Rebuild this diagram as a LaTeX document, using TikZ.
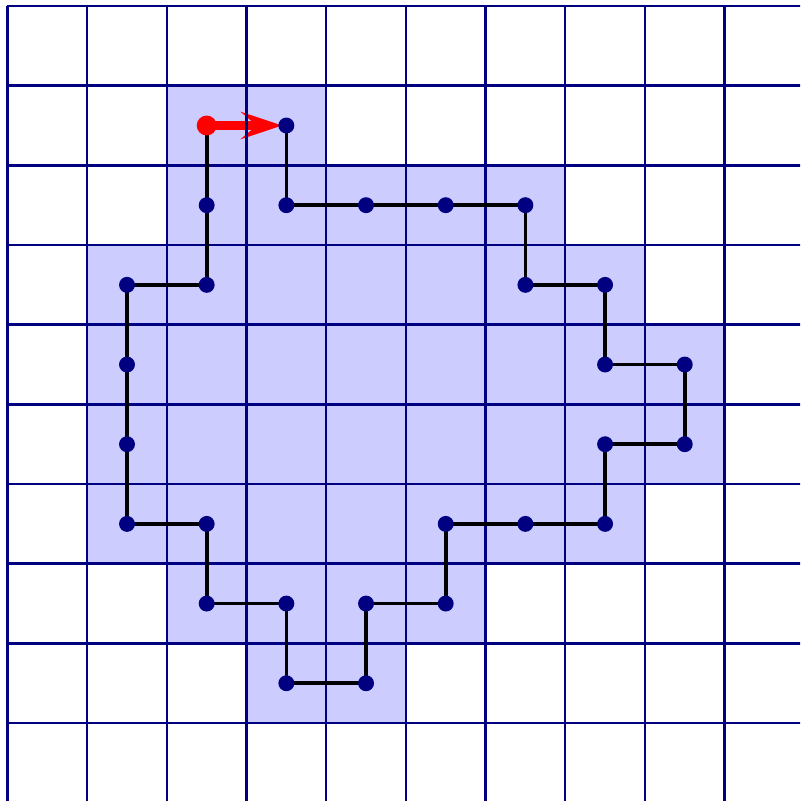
\documentclass[tikz,border=0pt]{standalone}
\usetikzlibrary{arrows.meta}
\definecolor{navy}{RGB}{0,0,128}
\definecolor{cellfill}{RGB}{204,204,255}
\begin{document}
\begin{tikzpicture}[x=1cm,y=-1cm,
  gridline/.style={draw=navy,line width=0.9pt},
  walk/.style={draw=black,line width=1.3pt},
  dot/.style={circle,fill=navy,inner sep=0pt,minimum size=0.2cm},
  startdot/.style={circle,fill=red,inner sep=0pt,minimum size=0.25cm},
  redarrow/.style={draw=red,line width=3.2pt,-{Stealth[length=0.52cm,width=0.34cm,inset=0.2cm]},shorten >=0.05cm}]
\useasboundingbox (-0.094,-0.075) rectangle (9.947,9.978);
% shaded region
\fill[cellfill] (2,1) rectangle (4,2);
\fill[cellfill] (2,2) rectangle (7,3);
\fill[cellfill] (1,3) rectangle (8,4);
\fill[cellfill] (1,4) rectangle (9,6);
\fill[cellfill] (1,6) rectangle (8,7);
\fill[cellfill] (2,7) rectangle (6,8);
\fill[cellfill] (3,8) rectangle (5,9);
% vertices
\foreach \n/\c/\r in {0/2/1,1/3/1,2/3/2,3/4/2,4/5/2,5/6/2,6/6/3,7/7/3,8/7/4,9/8/4,10/8/5,11/7/5,12/7/6,13/6/6,14/5/6,15/5/7,16/4/7,17/4/8,18/3/8,19/3/7,20/2/7,21/2/6,22/1/6,23/1/5,24/1/4,25/1/3,26/2/3,27/2/2}
  {\coordinate (v\n) at (\c+0.5,\r+0.5);}
% red arrow
\draw[redarrow] (v0) -- (v1);
% grid
\begin{scope}
\clip (-0.094,-0.075) rectangle (9.947,9.978);
\foreach \i in {0,...,10} {
  \draw[gridline] (\i,0) -- (\i,10.5);
  \draw[gridline] (0,\i) -- (10.5,\i);
}
\end{scope}
% walk
\draw[walk,line join=miter] (v0) -- (v27) -- (v26) -- (v25) -- (v24) -- (v23) -- (v22) -- (v21) -- (v20) -- (v19) -- (v18) -- (v17) -- (v16) -- (v15) -- (v14) -- (v13) -- (v12) -- (v11) -- (v10) -- (v9) -- (v8) -- (v7) -- (v6) -- (v5) -- (v4) -- (v3) -- (v2) -- (v1);
% dots
\foreach \n in {1,...,27} {\node[dot] (d\n) at (v\n) {};}
\node[startdot] (d0) at (v0) {};
\end{tikzpicture}
\end{document}
